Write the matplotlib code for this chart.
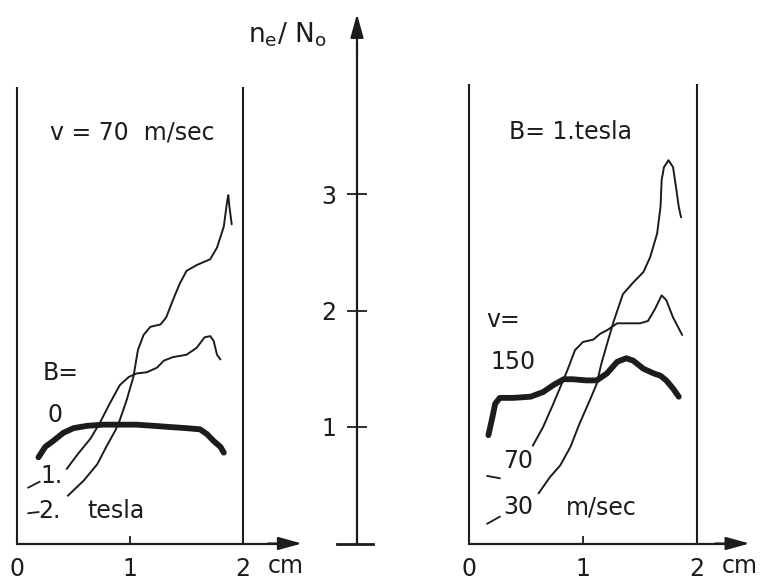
import matplotlib
matplotlib.use('agg')
import matplotlib.pyplot as plt

plt.rcParams['font.family'] = ['DejaVu Sans']
plt.rcParams['mathtext.default'] = 'regular'

# ---- data (x in cm, y in n_e/N_o) ----
# left panel: v = 70 m/sec, three magnetic fields
b0_x = [0.19, 0.25, 0.32, 0.41, 0.50, 0.62, 0.76, 0.91, 1.06, 1.21, 1.35, 1.50, 1.62, 1.68, 1.74, 1.80, 1.83]
b0_y = [0.74, 0.83, 0.88, 0.95, 0.99, 1.01, 1.02, 1.02, 1.02, 1.01, 1.00, 0.99, 0.98, 0.94, 0.88, 0.83, 0.78]
b1_x = [0.44, 0.54, 0.65, 0.73, 0.82, 0.91, 0.99, 1.06, 1.15, 1.24, 1.30, 1.38, 1.50, 1.59, 1.66, 1.71, 1.74, 1.77, 1.80]
b1_y = [0.64, 0.77, 0.90, 1.03, 1.20, 1.36, 1.43, 1.46, 1.47, 1.51, 1.57, 1.60, 1.62, 1.68, 1.77, 1.78, 1.74, 1.62, 1.58]
b2_x = [0.45, 0.59, 0.71, 0.79, 0.87, 0.91, 0.97, 1.03, 1.07, 1.12, 1.18, 1.27, 1.32, 1.38, 1.44, 1.50,
        1.59, 1.71, 1.77, 1.83, 1.86, 1.87, 1.88, 1.90]
b2_y = [0.41, 0.54, 0.68, 0.83, 0.97, 1.06, 1.23, 1.43, 1.66, 1.79, 1.86, 1.88, 1.94, 2.09, 2.23, 2.34,
        2.39, 2.44, 2.54, 2.72, 2.94, 2.99, 2.89, 2.74]

# right panel: B = 1 tesla, three velocities
v150_x = [0.17, 0.20, 0.23, 0.27, 0.39, 0.54, 0.65, 0.74, 0.83, 0.91, 1.03, 1.12, 1.21, 1.30, 1.38,
          1.44, 1.53, 1.62, 1.68, 1.73, 1.79, 1.84]
v150_y = [0.93, 1.06, 1.20, 1.25, 1.25, 1.26, 1.30, 1.36, 1.41, 1.41, 1.40, 1.40, 1.46, 1.56, 1.59,
          1.57, 1.50, 1.46, 1.44, 1.40, 1.33, 1.26]
v70_x = [0.56, 0.65, 0.74, 0.80, 0.86, 0.93, 1.00, 1.09, 1.15, 1.21, 1.30, 1.38, 1.50, 1.57, 1.63,
         1.69, 1.73, 1.79, 1.87]
v70_y = [0.84, 1.00, 1.20, 1.34, 1.48, 1.66, 1.73, 1.75, 1.80, 1.83, 1.89, 1.89, 1.89, 1.91, 2.01,
         2.13, 2.09, 1.94, 1.79]
v30_x = [0.61, 0.71, 0.80, 0.89, 0.97, 1.06, 1.12, 1.16, 1.21, 1.27, 1.35, 1.44, 1.53, 1.59, 1.65,
         1.68, 1.69, 1.71, 1.75, 1.79, 1.82, 1.84, 1.86]
v30_y = [0.43, 0.57, 0.67, 0.83, 1.03, 1.23, 1.37, 1.54, 1.71, 1.91, 2.14, 2.24, 2.33, 2.46, 2.66,
         2.89, 3.12, 3.23, 3.29, 3.23, 3.03, 2.89, 2.80]

x_ticks = [0, 1, 2]
x_ticklabels = ['0', '1', '2']
y_ticks = [1, 2, 3]
y_ticklabels = ['1', '2', '3']

# ---- layout (pixel geometry of the drawing) ----
W, H = 764, 582
Y_ZERO_PX, PX_PER_UNIT = 543.5, 116.5
YLIM = ((Y_ZERO_PX - H) / PX_PER_UNIT, Y_ZERO_PX / PX_PER_UNIT)
INK = '#1c1c1c'
FS = 17

fig = plt.figure(figsize=(W / 100, H / 100), dpi=100)


def make_axes(px0, px1, px_zero, px_unit):
    ax = fig.add_axes([px0 / W, 0, (px1 - px0) / W, 1])
    ax.set_xlim((px0 - px_zero) / px_unit, (px1 - px_zero) / px_unit)
    ax.set_ylim(*YLIM)
    ax.patch.set_alpha(0)
    for s in ['top', 'right', 'left']:
        ax.spines[s].set_visible(False)
    return ax


def arrow(ax, start, end):
    ax.annotate('', xy=end, xytext=start,
                arrowprops=dict(arrowstyle='-|>,head_length=0.9,head_width=0.25',
                                color=INK, lw=1.5, mutation_scale=16,
                                shrinkA=0, shrinkB=0))


def panel(ax, x_end, top):
    ax.spines['bottom'].set_position(('data', 0))
    ax.spines['bottom'].set_bounds(0, x_end - 0.1)
    ax.spines['bottom'].set_linewidth(1.6)
    ax.spines['bottom'].set_color(INK)
    ax.set_xticks(x_ticks)
    ax.set_xticklabels(x_ticklabels)
    ax.set_yticks([])
    ax.tick_params(axis='x', direction='in', length=6, width=1.3, colors=INK,
                   labelsize=FS, pad=10)
    ax.vlines([0, 2], 0, top, color=INK, lw=1.5)
    arrow(ax, (x_end - 0.3, 0), (x_end, 0))
    ax.text(2.22, -0.195, 'cm', fontsize=FS, color=INK, ha='left', va='center')


thin = dict(color=INK, lw=1.4, solid_joinstyle='round', solid_capstyle='round')
thick = dict(color=INK, lw=4.2, solid_joinstyle='round', solid_capstyle='round')

# left panel
axl = make_axes(0, 320, 17, 113)
panel(axl, 2.52, 3.92)
axl.plot(b0_x, b0_y, **thick)
axl.plot(b1_x, b1_y, **thin)
axl.plot(b2_x, b2_y, **thin)
axl.text(1.02, 3.53, 'v = 70  m/sec', fontsize=FS, color=INK, ha='center', va='center')
axl.text(0.39, 1.46, 'B=', fontsize=FS, color=INK, ha='center', va='center')
axl.text(0.34, 1.10, '0', fontsize=FS, color=INK, ha='center', va='center')
axl.text(0.31, 0.58, '1.', fontsize=FS, color=INK, ha='center', va='center')
axl.text(0.29, 0.28, '2.', fontsize=FS, color=INK, ha='center', va='center')
axl.text(0.88, 0.28, 'tesla', fontsize=FS, color=INK, ha='center', va='center')
axl.plot([0.10, 0.20], [0.48, 0.53], color=INK, lw=1.3)
axl.plot([0.10, 0.19], [0.26, 0.27], color=INK, lw=1.3)

# right panel
axr = make_axes(430, 764, 469, 114)
panel(axr, 2.46, 3.94)
axr.plot(v150_x, v150_y, **thick)
axr.plot(v70_x, v70_y, **thin)
axr.plot(v30_x, v30_y, **thin)
axr.text(0.89, 3.53, 'B= 1.tesla', fontsize=FS, color=INK, ha='center', va='center')
axr.text(0.30, 1.92, 'v=', fontsize=FS, color=INK, ha='center', va='center')
axr.text(0.39, 1.56, '150', fontsize=FS, color=INK, ha='center', va='center')
axr.text(0.43, 0.71, '70', fontsize=FS, color=INK, ha='center', va='center')
axr.text(0.43, 0.31, '30', fontsize=FS, color=INK, ha='center', va='center')
axr.text(1.16, 0.31, 'm/sec', fontsize=FS, color=INK, ha='center', va='center')
axr.plot([0.16, 0.27], [0.58, 0.56], color=INK, lw=1.3)
axr.plot([0.16, 0.27], [0.17, 0.23], color=INK, lw=1.3)

# central n_e/N_o axis
axc = fig.add_axes([230 / W, 0, 210 / W, 1])
axc.set_xlim((230 - 357) / PX_PER_UNIT, (440 - 357) / PX_PER_UNIT)
axc.set_ylim(*YLIM)
axc.patch.set_alpha(0)
for s in ['top', 'right', 'bottom']:
    axc.spines[s].set_visible(False)
axc.spines['left'].set_position(('data', 0))
axc.spines['left'].set_bounds(0, 4.3)
axc.spines['left'].set_linewidth(1.6)
axc.spines['left'].set_color(INK)
axc.set_xticks([])
axc.set_yticks(y_ticks)
axc.set_yticklabels(y_ticklabels)
axc.tick_params(axis='y', direction='inout', length=14, width=1.3, colors=INK,
                labelsize=FS, pad=8)
axc.plot([-0.17, 0.14], [0, 0], color=INK, lw=2)
arrow(axc, (0, 4.2), (0, 4.545))
axc.text(-0.60, 4.37, r'$n_e$/ N$_o$', fontsize=19, color=INK, ha='center', va='center')

fig.savefig('out.png', dpi=100, facecolor='white')
plt.close(fig)
